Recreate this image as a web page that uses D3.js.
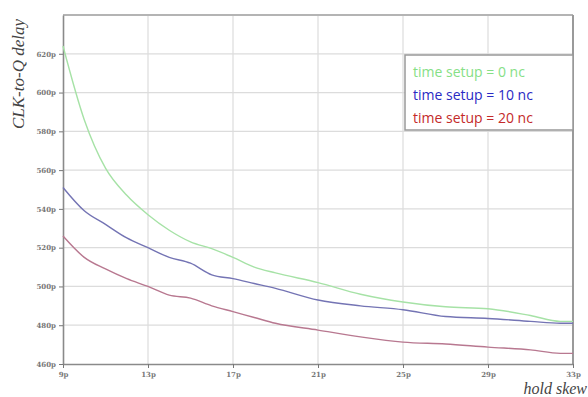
<!DOCTYPE html>
<html>
<head>
<meta charset="utf-8">
<script src="https://cdn.jsdelivr.net/npm/d3@7"></script>
<style>
  body { margin: 0; background: #fff; }
  svg { display: block; }
</style>
</head>
<body>
<div id="chart"></div>
<script>
// hold skew (p) and CLK-to-Q delay (p) for each setup time
const skew = [9, 10, 11, 12, 13, 14, 15, 16, 17, 18, 19, 21, 23, 25, 27, 29, 31, 32.4, 33];
const setup0 = [624, 586, 561, 547, 537, 529, 523, 519.5, 515, 510, 507, 502, 496, 492, 489.5, 488.5, 485, 482, 482];
const setup10 = [551, 539, 532, 525, 520, 515, 512, 506, 504, 501.5, 499, 493, 490, 488, 484.5, 483.5, 482, 481, 481];
const setup20 = [526, 515, 509, 504, 500, 495.5, 494, 490, 487, 484, 481, 477.5, 474, 471.3, 470.3, 468.7, 467.3, 465.5, 465.5];
const xTicks = [9, 13, 17, 21, 25, 29, 33];
const yTicks = [460, 480, 500, 520, 540, 560, 580, 600, 620];
const seriesNames = ['time setup = 0 nc', 'time setup = 10 nc', 'time setup = 20 nc'];

const W = 588, H = 397;
const margin = { top: 15, right: 15, bottom: 33, left: 63 };
const width = W - margin.left - margin.right;
const height = H - margin.top - margin.bottom;

const svg = d3.select('#chart').append('svg')
  .attr('width', W).attr('height', H);
const g = svg.append('g')
  .attr('transform', `translate(${margin.left},${margin.top})`);

const x = d3.scaleLinear().domain([9, 33]).range([0, width]);
const y = d3.scaleLinear().domain([460, 640]).range([height, 0]);

// grid
g.append('g').selectAll('line').data(xTicks.slice(1, -1)).join('line')
  .attr('x1', d => x(d)).attr('x2', d => x(d))
  .attr('y1', 0).attr('y2', height)
  .attr('stroke', '#dcdcdc').attr('stroke-width', 1.2);
g.append('g').selectAll('line').data(yTicks.slice(1)).join('line')
  .attr('x1', 0).attr('x2', width)
  .attr('y1', d => y(d)).attr('y2', d => y(d))
  .attr('stroke', '#dcdcdc').attr('stroke-width', 1.2);

// frame
g.append('line').attr('x1', 0).attr('x2', width).attr('y1', 0).attr('y2', 0)
  .attr('stroke', '#b4b4b4').attr('stroke-width', 2);
g.append('line').attr('x1', width).attr('x2', width).attr('y1', 0).attr('y2', height)
  .attr('stroke', '#9a9a9a').attr('stroke-width', 2);

// axes
const xAxis = g.append('g').attr('transform', `translate(0,${height})`)
  .call(d3.axisBottom(x).tickValues(xTicks).tickFormat(d => d + 'p').tickSize(4).tickSizeOuter(0));
const yAxis = g.append('g')
  .call(d3.axisLeft(y).tickValues(yTicks).tickFormat(d => d + 'p').tickSize(4).tickSizeOuter(0));
[xAxis, yAxis].forEach(a => {
  a.select('.domain').attr('stroke', '#8a8a8a').attr('stroke-width', 1.6);
  a.selectAll('.tick line').attr('stroke', '#777');
  a.selectAll('text').attr('font-family', 'DejaVu Serif, serif').attr('font-size', 7)
    .attr('font-weight', 'bold').attr('fill', '#777');
});
xAxis.selectAll('text').attr('dy', '0.9em');

// lines
const lineColors = ['#a6e2a6', '#7474b4', '#b87890'];
const line = d3.line().x((d, i) => x(skew[i])).y(d => y(d)).curve(d3.curveMonotoneX);
[setup0, setup10, setup20].forEach((s, k) => {
  g.append('path').datum(s)
    .attr('fill', 'none')
    .attr('stroke', lineColors[k])
    .attr('stroke-width', 1.4)
    .attr('d', line);
});

// legend
const legendColors = ['#86e086', '#2a2ac4', '#c42a2a'];
const lg = svg.append('g').attr('transform', 'translate(405,55)');
lg.append('rect').attr('width', 168).attr('height', 75)
  .attr('fill', '#fff').attr('stroke', '#999').attr('stroke-width', 1.5);
lg.selectAll('text').data(seriesNames).join('text')
  .attr('x', 8).attr('y', (d, i) => 22 + i * 23)
  .attr('font-family', 'Open Sans, sans-serif').attr('font-size', 14)
  .attr('fill', (d, i) => legendColors[i])
  .text(d => d);

// axis titles
svg.append('text')
  .attr('transform', 'translate(24,74) rotate(-90)')
  .attr('text-anchor', 'middle')
  .attr('font-family', 'Liberation Serif, serif').attr('font-style', 'italic')
  .attr('font-size', 17).attr('fill', '#444')
  .text('CLK-to-Q delay');
svg.append('text')
  .attr('x', 587).attr('y', 394)
  .attr('text-anchor', 'end')
  .attr('font-family', 'Liberation Serif, serif').attr('font-style', 'italic')
  .attr('font-size', 16).attr('fill', '#444')
  .text('hold skew');
</script>
</body>
</html>
